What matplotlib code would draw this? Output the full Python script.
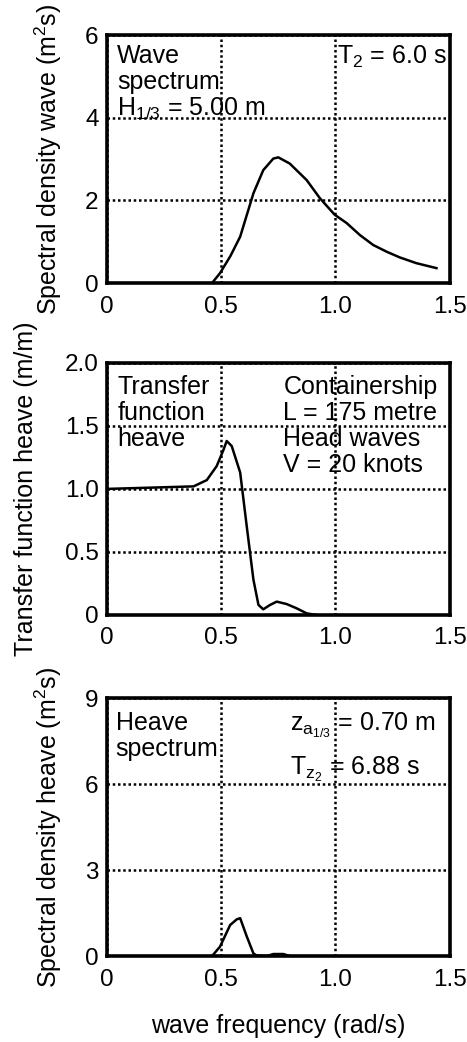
import matplotlib
matplotlib.use("Agg")
import matplotlib.pyplot as plt

plt.rcParams['font.family'] = ['Liberation Sans', 'DejaVu Sans']
plt.rcParams['mathtext.fontset'] = 'custom'
plt.rcParams['mathtext.rm'] = 'Liberation Sans'
plt.rcParams['mathtext.it'] = 'Liberation Sans'

# wave spectrum (m^2 s) vs frequency (rad/s)
wave_freq = [0.46, 0.495, 0.54, 0.583, 0.641, 0.684, 0.728, 0.75, 0.80, 0.874,
             0.932, 0.997, 1.049, 1.107, 1.165, 1.223, 1.281, 1.354, 1.442]
wave_spec = [0.0, 0.24, 0.65, 1.12, 2.17, 2.73, 3.01, 3.04, 2.89, 2.49,
             2.05, 1.65, 1.45, 1.16, 0.92, 0.76, 0.62, 0.48, 0.36]

# heave transfer function (m/m)
rao_freq = [0.0, 0.19, 0.379, 0.437, 0.48, 0.51, 0.524, 0.546, 0.583, 0.612,
            0.641, 0.663, 0.684, 0.714, 0.743, 0.786, 0.83, 0.874, 0.917]
rao_heave = [1.0, 1.01, 1.02, 1.07, 1.18, 1.31, 1.38, 1.34, 1.13, 0.70,
             0.28, 0.08, 0.045, 0.08, 0.106, 0.087, 0.053, 0.013, 0.0]

# heave response spectrum (m^2 s)
heave_freq = [0.46, 0.495, 0.539, 0.568, 0.583, 0.612, 0.641, 0.655, 0.70,
              0.728, 0.772, 0.80]
heave_spec = [0.0, 0.33, 1.08, 1.28, 1.32, 0.68, 0.09, 0.02, 0.0,
              0.07, 0.07, 0.0]

x_ticks = [0, 0.5, 1.0, 1.5]
x_tick_labels = ['0', '0.5', '1.0', '1.5']

TICK_FS = 17.5
TEXT_FS = 18
LABEL_FS = 18

fig = plt.figure(figsize=(4.67, 10.42), dpi=100)
ax1 = fig.add_axes([0.229, 0.7284, 0.734, 0.238])
ax2 = fig.add_axes([0.229, 0.4098, 0.734, 0.242])
ax3 = fig.add_axes([0.229, 0.0825, 0.734, 0.2476])


def style(ax, yticks, ylabels):
    ax.set_xlim(0, 1.5)
    ax.set_ylim(yticks[0], yticks[-1])
    ax.set_xticks(x_ticks)
    ax.set_xticklabels(x_tick_labels)
    ax.set_yticks(yticks)
    ax.set_yticklabels(ylabels)
    ax.tick_params(length=0, labelsize=TICK_FS, pad=6)
    ax.tick_params(axis='x', pad=9)
    ax.grid(True, color='black', linestyle=(0, (1, 1.1)), linewidth=1.8)
    for sp in ax.spines.values():
        sp.set_linewidth(2.6)
        sp.set_zorder(5)


ax1.plot(wave_freq, wave_spec, color='black', lw=1.8)
style(ax1, [0, 2, 4, 6], ['0', '2', '4', '6'])
ax1.set_ylabel('Spectral density wave (m$^2$s)', fontsize=LABEL_FS, labelpad=15)
ax1.text(0.03, 0.965, 'Wave\nspectrum\nH$_{1/3}$ = 5.00 m', transform=ax1.transAxes,
         fontsize=TEXT_FS, va='top', ha='left', linespacing=1.1)
ax1.text(0.67, 0.965, 'T$_2$ = 6.0 s', transform=ax1.transAxes,
         fontsize=TEXT_FS, va='top', ha='left')

ax2.plot(rao_freq, rao_heave, color='black', lw=1.8)
style(ax2, [0, 0.5, 1.0, 1.5, 2.0], ['0', '0.5', '1.0', '1.5', '2.0'])
ax2.set_ylabel('Transfer function heave (m/m)', fontsize=LABEL_FS, labelpad=19)
ax2.text(0.03, 0.95, 'Transfer\nfunction\nheave', transform=ax2.transAxes,
         fontsize=TEXT_FS, va='top', ha='left', linespacing=1.1)
ax2.text(0.515, 0.95, 'Containership\nL = 175 metre\nHead waves\nV = 20 knots',
         transform=ax2.transAxes, fontsize=TEXT_FS, va='top', ha='left', linespacing=1.1)

ax3.plot(heave_freq, heave_spec, color='black', lw=1.8)
style(ax3, [0, 3, 6, 9], ['0', '3', '6', '9'])
ax3.set_ylabel('Spectral density heave (m$^2$s)', fontsize=LABEL_FS, labelpad=15)
ax3.set_xlabel('wave frequency (rad/s)', fontsize=LABEL_FS, labelpad=17)
ax3.text(0.025, 0.95, 'Heave\nspectrum', transform=ax3.transAxes,
         fontsize=TEXT_FS, va='top', ha='left', linespacing=1.1)
ax3.text(0.535, 0.95, 'z$_{a_{1/3}}$ = 0.70 m', transform=ax3.transAxes,
         fontsize=TEXT_FS, va='top', ha='left')
ax3.text(0.535, 0.78, 'T$_{z_2}$ = 6.88 s', transform=ax3.transAxes,
         fontsize=TEXT_FS, va='top', ha='left')

fig.savefig('out.png', dpi=100)
